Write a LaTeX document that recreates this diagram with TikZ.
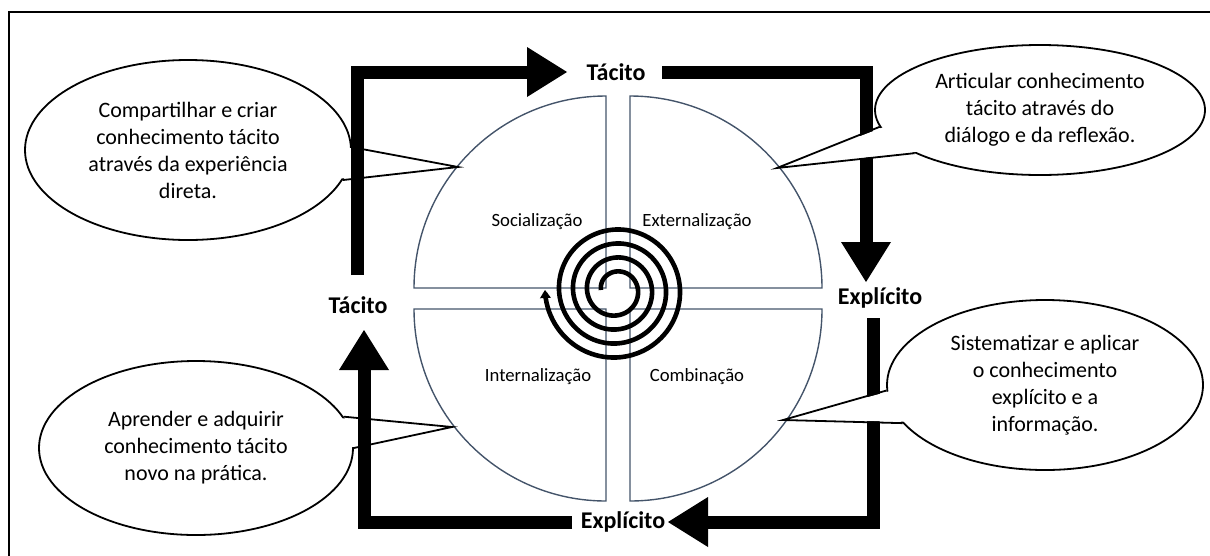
\documentclass[tikz,border=0pt]{standalone}
\usepackage{fontspec}
\setmainfont{Carlito}
\usetikzlibrary{arrows.meta,shapes.geometric,calc}
\definecolor{quadcol}{HTML}{44546A}
\begin{document}
\begin{tikzpicture}[x=1pt,y=-1pt,
  quad/.style={draw=quadcol, line width=1.4pt},
  qlabel/.style={font=\fontsize{18.7}{22}\selectfont, inner sep=0pt},
  blabel/.style={font=\fontsize{24}{28}\selectfont\bfseries, inner sep=0pt},
  bigbar/.style={line width=13pt, line join=miter},
  bigarrow/.style={bigbar, -{Triangle[length=40pt,width=50pt,line width=0pt]}},
  callout/.style={ellipse, draw, line width=1.8pt, fill=white, inner sep=0pt, align=center, font=\fontsize{22}{27}\selectfont},
  tail/.style={line width=1.8pt, line join=miter},
  spiral/.style={line width=4.6pt, -{Triangle[length=8pt,width=11pt,line width=0pt]}}
]
\useasboundingbox (0,0) rectangle (1210,555);
\clip (0,0) rectangle (1210,555);
% frame
\draw[line width=1.6pt] (9,12) rectangle (1225,570);

% quadrants
\draw[quad] (606,288) -- (414,288) arc[start angle=180,end angle=90,radius=192pt] -- cycle;
\draw[quad] (630,288) -- (630,96) arc[start angle=90,end angle=0,radius=192pt] -- cycle;
\draw[quad] (606,309) -- (606,501) arc[start angle=270,end angle=180,radius=192pt] -- cycle;
\draw[quad] (630,309) -- (822,309) arc[start angle=0,end angle=-90,radius=192pt] -- cycle;

\node[qlabel] (soc) at (537,222) {Socialização};
\node[qlabel] (ext) at (697,222) {Externalização};
\node[qlabel] (int) at (538,377) {Internalização};
\node[qlabel] (comb) at (697,377) {Combinação};

% spiral
\draw[spiral] plot[domain=0:1440, samples=400, smooth, variable=\t]
  ({616 + (15+\t/360*14)*cos(180-\t)}, {290 - (15+\t/360*14)*sin(180-\t)});

% left callouts (under the bars)
\node[callout, minimum width=326pt, minimum height=180pt] (cTL) at (188,150)
  {Compartilhar e criar\\conhecimento tácito\\através da experiência\\direta.};
\coordinate (tTL) at (458,167);
\fill[white] ($(cTL.1)!0.04!(cTL.center)$) -- (tTL) -- ($(cTL.-11)!0.04!(cTL.center)$) -- cycle;
\draw[tail] (cTL.1) -- (tTL) -- (cTL.-11);

\node[callout, minimum width=314pt, minimum height=174pt] (cBL) at (196,448)
  {Aprender e adquirir\\conhecimento tácito\\novo na prática.};
\coordinate (tBL) at (452,427);
\fill[white] ($(cBL.12)!0.04!(cBL.center)$) -- (tBL) -- ($(cBL.0)!0.04!(cBL.center)$) -- cycle;
\draw[tail] (cBL.12) -- (tBL) -- (cBL.0);

% bold labels
\node[blabel] (tacT) at (616,72) {Tácito};
\node[blabel] (tacL) at (358,305) {Tácito};
\node[blabel] (expR) at (880,298) {Explícito};
\node[blabel] (expB) at (623,522) {Explícito};

% big arrows
\coordinate (a1s) at (357,275); \coordinate (a1e) at (567,72);
\coordinate (a2s) at (662,72);  \coordinate (a2e) at (866,282);
\coordinate (a3s) at (873,318); \coordinate (a3e) at (668,522);
\coordinate (a4s) at (572,522); \coordinate (a4e) at (364,330);
\draw[bigarrow] (a1s) |- (a1e);
\draw[bigarrow] (a2s) -| (a2e);
\draw[bigarrow] (a3s) |- (a3e);
\draw[bigarrow] (a4s) -| (a4e);

% right callouts (over the bars)
\node[callout, minimum width=330pt, minimum height=130pt] (cTR) at (1040,110)
  {Articular conhecimento\\tácito através do\\diálogo e da reflexão.};
\coordinate (tTR) at (777,168);
\fill[white] ($(cTR.186)!0.04!(cTR.center)$) -- (tTR) -- ($(cTR.199)!0.04!(cTR.center)$) -- cycle;
\draw[tail] (cTR.186) -- (tTR) -- (cTR.199);

\node[callout, minimum width=316pt, minimum height=170pt] (cBR) at (1045,385)
  {Sistematizar e aplicar\\o conhecimento\\explícito e a\\informação.};
\coordinate (tBR) at (783,420);
\fill[white] ($(cBR.182)!0.04!(cBR.center)$) -- (tBR) -- ($(cBR.195)!0.04!(cBR.center)$) -- cycle;
\draw[tail] (cBR.182) -- (tBR) -- (cBR.195);
\end{tikzpicture}
\end{document}
